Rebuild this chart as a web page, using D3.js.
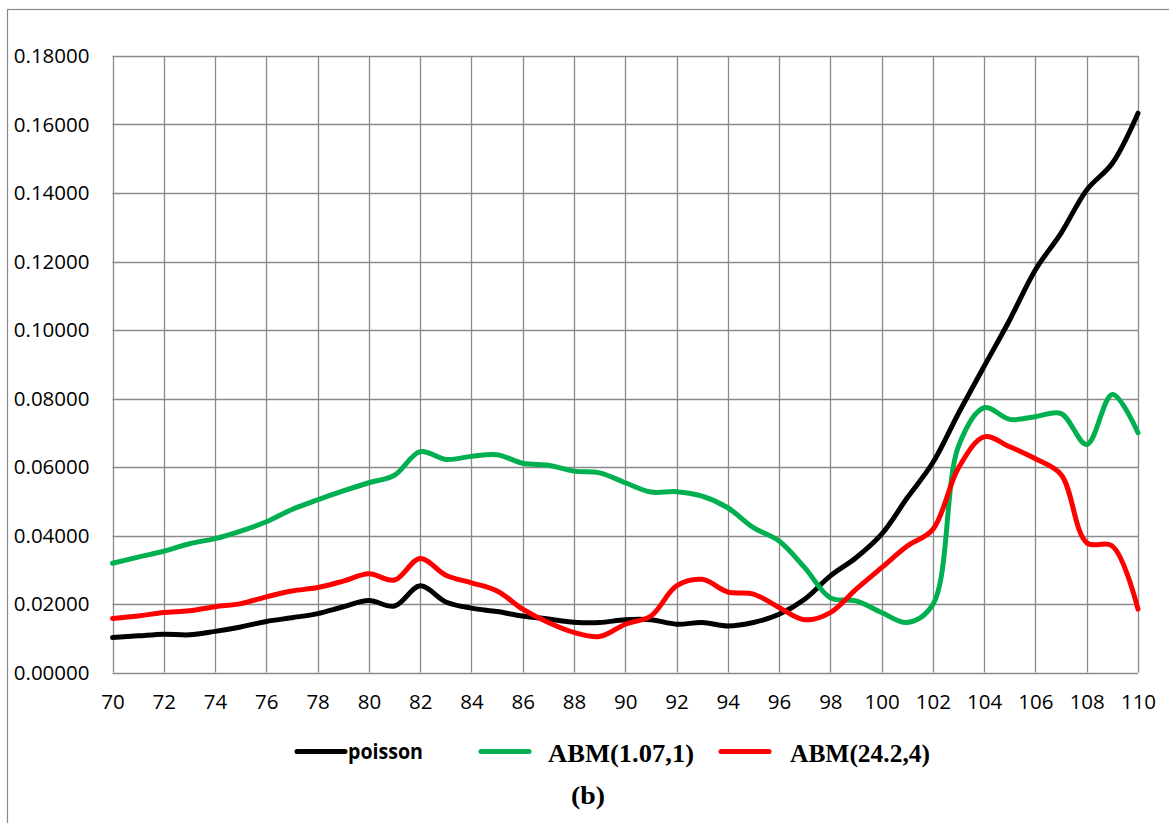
<!DOCTYPE html>
<html>
<head>
<meta charset="utf-8">
<script src="https://cdn.jsdelivr.net/npm/d3@7"></script>
<style>
  body { margin: 0; background: #fff; }
  svg { display: block; }
</style>
</head>
<body>
<svg></svg>
<script>
let width = 1169,
  height = 823;

// x values 70..110
let ages = d3.range(70, 111);

let poisson = [
  0.0102, 0.0107, 0.0112, 0.0110, 0.0120, 0.0133, 0.0149, 0.0160, 0.0172, 0.0192,
  0.0210, 0.0194, 0.0253, 0.0206, 0.0188, 0.0178, 0.0165, 0.0156, 0.0147, 0.0146,
  0.0154, 0.0154, 0.0141, 0.0146, 0.0136, 0.0146, 0.0170, 0.0214, 0.0282, 0.0335,
  0.0404, 0.0510, 0.0613, 0.0757, 0.0894, 0.1030, 0.1176, 0.1283, 0.1409, 0.1487,
  0.1633
];

let abm1 = [
  0.0319, 0.0337, 0.0354, 0.0376, 0.0391, 0.0413, 0.0440, 0.0476, 0.0504, 0.0530,
  0.0554, 0.0576, 0.0645, 0.0622, 0.0631, 0.0636, 0.0611, 0.0605, 0.0588, 0.0583,
  0.0554, 0.0527, 0.0528, 0.0515, 0.0481, 0.0423, 0.0384, 0.0306, 0.0218, 0.0209,
  0.0175, 0.0146, 0.0199, 0.0661, 0.0773, 0.0739, 0.0747, 0.0756, 0.0666, 0.0812,
  0.0700
];

let abm2 = [
  0.0158, 0.0165, 0.0175, 0.0180, 0.0192, 0.0201, 0.0221, 0.0238, 0.0248, 0.0267,
  0.0288, 0.0270, 0.0333, 0.0284, 0.0262, 0.0238, 0.0185, 0.0146, 0.0117, 0.0105,
  0.0141, 0.0165, 0.0253, 0.0272, 0.0235, 0.0229, 0.0190, 0.0154, 0.0175, 0.0243,
  0.0306, 0.0369, 0.0418, 0.0598, 0.0688, 0.0659, 0.0624, 0.0578, 0.0379, 0.0369,
  0.0185
];

let seriesNames = ["poisson", "ABM(1.07,1)", "ABM(24.2,4)"];
let seriesColors = ["#000000", "#00b050", "#ff0000"];
let yTicks = [0, 0.02, 0.04, 0.06, 0.08, 0.1, 0.12, 0.14, 0.16, 0.18];
let xTicks = d3.range(70, 111, 2);

let svg = d3.select("svg").attr("width", width).attr("height", height);

let grid = "#8a8a8a";

// chart area frame (continues past the picture edge)
svg
  .append("rect")
  .attr("x", 7.5)
  .attr("y", 9.5)
  .attr("width", 1200)
  .attr("height", 900)
  .attr("fill", "none")
  .attr("stroke", grid)
  .attr("stroke-width", 1.2);

let x = d3.scaleLinear().domain([70, 110]).range([112.5, 1138]);
let y = d3.scaleLinear().domain([0, 0.18]).range([672.5, 56]);

// grid lines
svg
  .append("g")
  .selectAll("line")
  .data(xTicks)
  .enter()
  .append("line")
  .attr("x1", (d) => Math.round(x(d)) + 0.5)
  .attr("x2", (d) => Math.round(x(d)) + 0.5)
  .attr("y1", y(0.18))
  .attr("y2", y(0))
  .attr("stroke", grid)
  .attr("stroke-width", 1.3);

svg
  .append("g")
  .selectAll("line")
  .data(yTicks)
  .enter()
  .append("line")
  .attr("x1", x(70))
  .attr("x2", x(110))
  .attr("y1", (d) => Math.round(y(d)) + 0.5)
  .attr("y2", (d) => Math.round(y(d)) + 0.5)
  .attr("stroke", grid)
  .attr("stroke-width", 1.3);

// axes labels
let tickFont = "'Open Sans', 'Noto Sans', sans-serif";

svg
  .append("g")
  .attr("transform", "translate(" + (x(70) - 23) + ",0)")
  .call(
    d3
      .axisLeft(y)
      .tickValues(yTicks)
      .tickSize(0)
      .tickPadding(0)
      .tickFormat(d3.format(".5f"))
  )
  .call((g) => g.select(".domain").remove())
  .selectAll("text")
  .attr("font-family", tickFont)
  .attr("font-size", "20.5px")
  .attr("fill", "#000");

svg
  .append("g")
  .attr("transform", "translate(0," + (y(0) + 22) + ")")
  .call(d3.axisBottom(x).tickValues(xTicks).tickSize(0).tickPadding(0))
  .call((g) => g.select(".domain").remove())
  .selectAll("text")
  .attr("font-family", tickFont)
  .attr("font-size", "20.5px")
  .attr("fill", "#000");

// series lines
let series = [poisson, abm1, abm2];
let line = d3
  .line()
  .x((d, i) => x(ages[i]))
  .y((d) => y(d))
  .curve(d3.curveCatmullRom.alpha(0.5));

// draw in Excel order so red sits on top
svg
  .append("g")
  .selectAll("path")
  .data(series)
  .enter()
  .append("path")
  .attr("d", (d) => line(d))
  .attr("fill", "none")
  .attr("stroke", (d, i) => seriesColors[i])
  .attr("stroke-width", 5)
  .attr("stroke-linejoin", "round")
  .attr("stroke-linecap", "round");

// legend
let serif = "'Liberation Serif', 'Times New Roman', serif";
let legendItems = [
  { lx: 297, tx: 348, tw: 75, font: "'Open Sans', sans-serif", size: 22, base: 759 },
  { lx: 481, tx: 548, tw: 146, font: serif, size: 25, base: 762 },
  { lx: 721, tx: 790, tw: 140, font: serif, size: 25, base: 762 },
];

let legend = svg.append("g");
legendItems.forEach((item, i) => {
  legend
    .append("line")
    .attr("x1", item.lx)
    .attr("x2", item.lx + 48)
    .attr("y1", 751.5)
    .attr("y2", 751.5)
    .attr("stroke", seriesColors[i])
    .attr("stroke-width", 5)
    .attr("stroke-linecap", "round");
  legend
    .append("text")
    .attr("x", item.tx)
    .attr("y", item.base)
    .attr("font-family", item.font)
    .attr("font-size", item.size + "px")
    .attr("font-weight", "bold")
    .attr("textLength", item.tw)
    .attr("lengthAdjust", "spacingAndGlyphs")
    .text(seriesNames[i]);
});

svg
  .append("text")
  .attr("x", 571)
  .attr("y", 804)
  .attr("font-family", serif)
  .attr("font-size", "25px")
  .attr("font-weight", "bold")
  .attr("textLength", 34)
  .attr("lengthAdjust", "spacingAndGlyphs")
  .text("(b)");
</script>
</body>
</html>
